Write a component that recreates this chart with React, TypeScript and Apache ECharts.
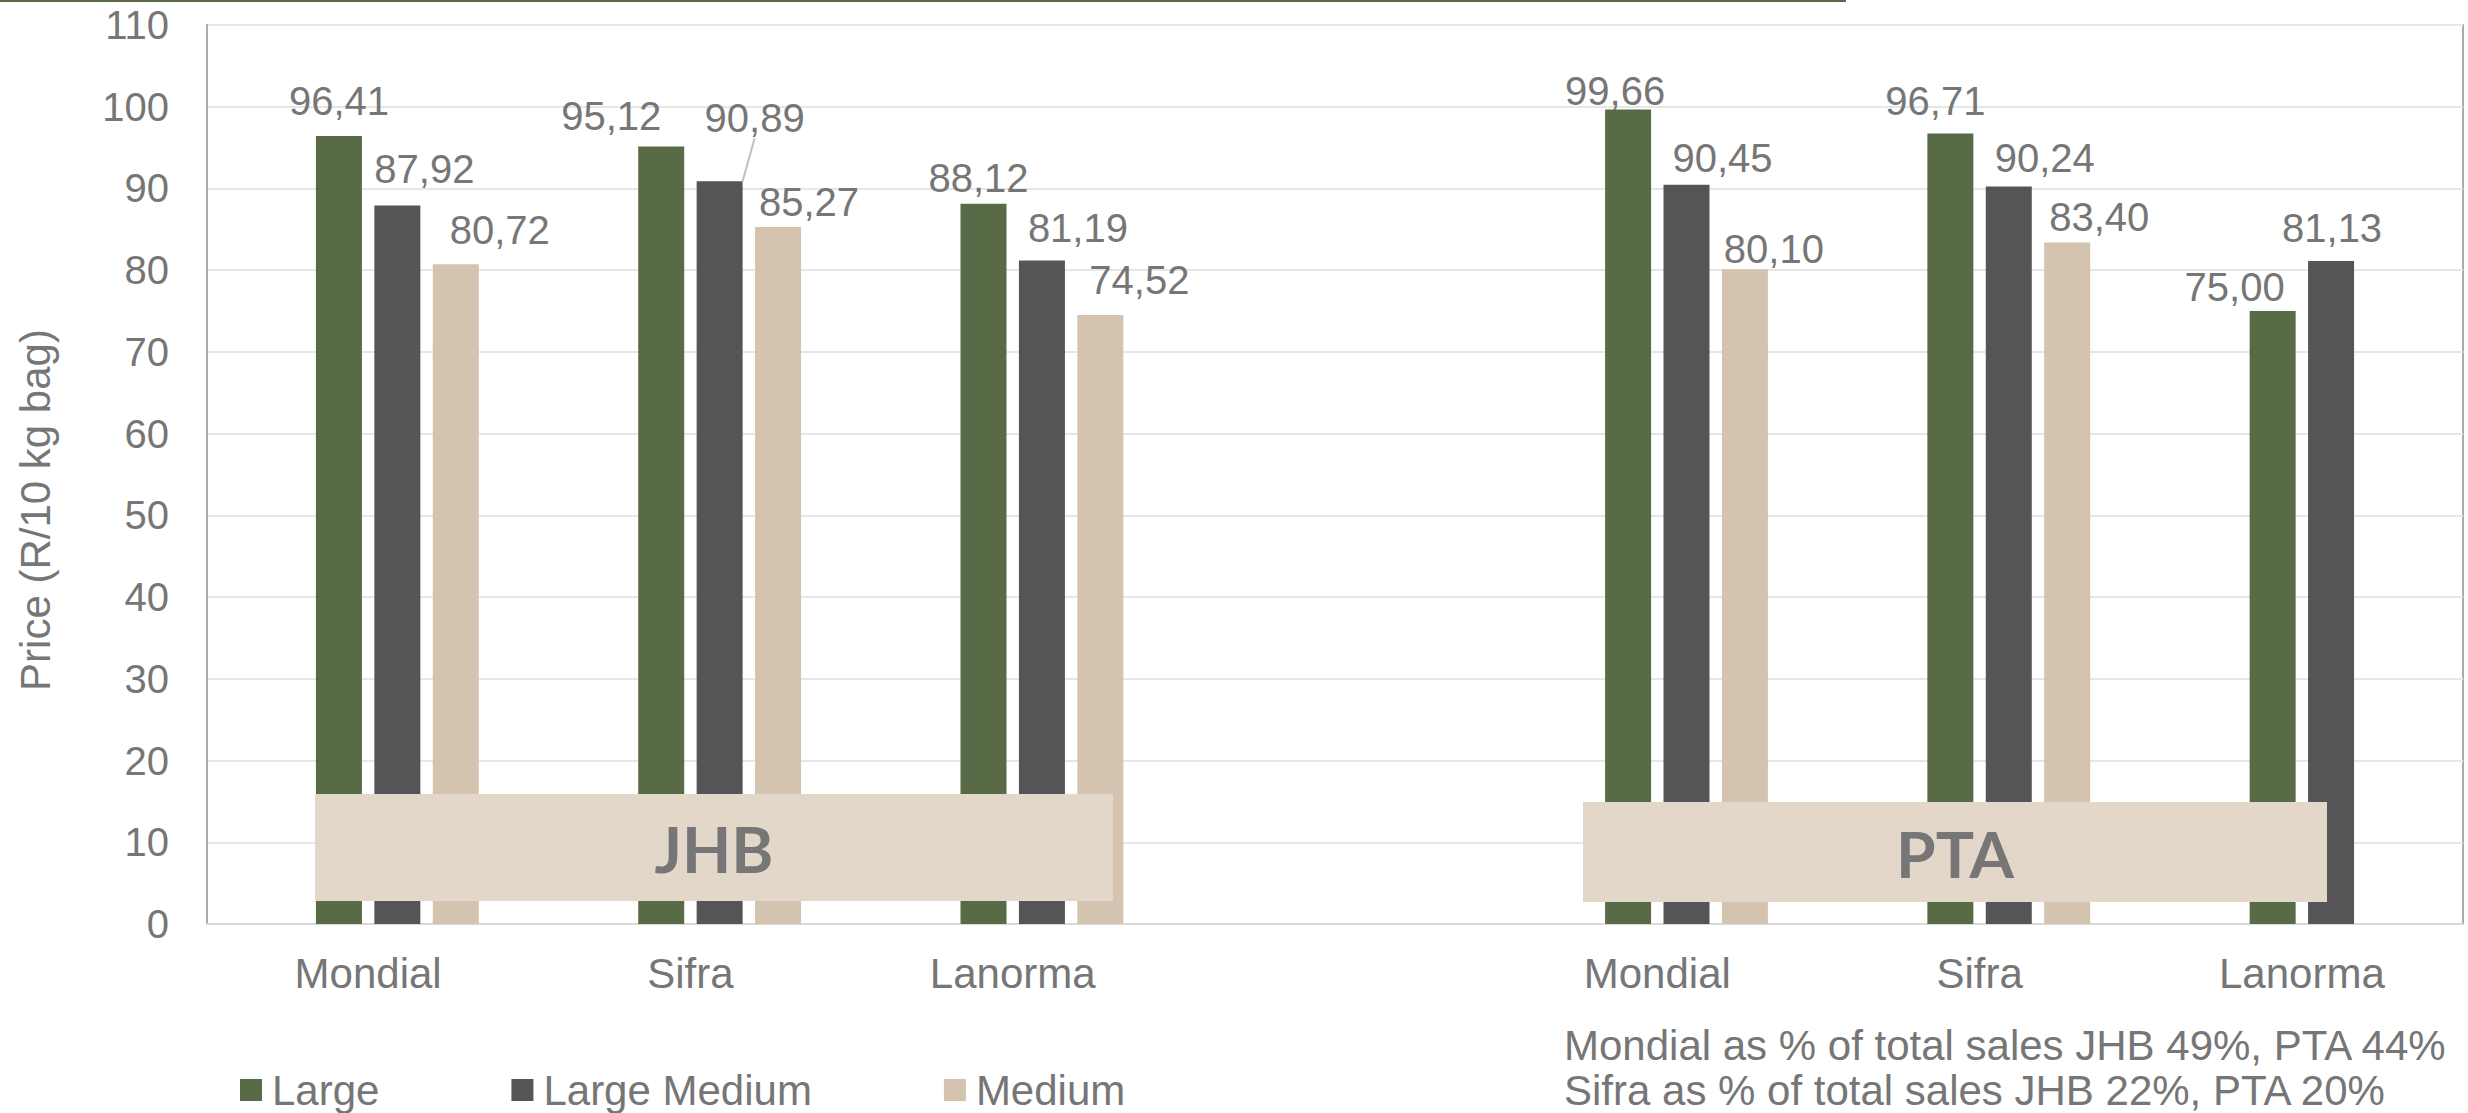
import React, { useEffect, useRef } from 'react';
import * as echarts from 'echarts';

const categories = ['Mondial', 'Sifra', 'Lanorma', '', 'Mondial', 'Sifra', 'Lanorma'];
const seriesNames = ['Large', 'Large Medium', 'Medium'];
const large = [96.41, 95.12, 88.12, null, 99.66, 96.71, 75.0];
const largeMedium = [87.92, 90.89, 81.19, null, 90.45, 90.24, 81.13];
const medium = [80.72, 85.27, 74.52, null, 80.1, 83.4, null];
const regions = ['JHB', 'PTA'];
const notes = [
  'Mondial as % of total sales JHB 49%, PTA 44%',
  'Sifra as % of total sales JHB 22%, PTA 20%',
];
const yAxisTitle = 'Price (R/10 kg bag)';
const yMin = 0;
const yMax = 110;
const yStep = 10;

// label nudges in px [dx, dy], per series, per category
const labelShift = [
  [[0, -10], [-50, -6], [-5, -1], [0, 0], [-13, 6], [-15, -8], [-38, 1]],
  [[27, -11], [35, -38], [36, -7], [0, 0], [36, -2], [36, -3], [1, -8]],
  [[44, -9], [31, 0], [39, -10], [0, 0], [29, 5], [32, 0], [0, 0]],
];
// which labels get a leader line [seriesIdx, dataIdx]
const leaderLines = [[1, 1]];

const colors = ['#596a47', '#555557', '#d4c3ae'];
const textGray = '#767676';
const FONT = '"Liberation Sans", Arial, sans-serif';

const fmt = (v: number) => v.toFixed(2).replace('.', ',');

export default function App() {
  const ref = useRef<HTMLDivElement>(null);
  useEffect(() => {
    if (!ref.current) return;
    const chart = echarts.init(ref.current, undefined, { renderer: 'svg' });
    const values = [large, largeMedium, medium];
    const barSeries = values.map((arr, s) => ({
      type: 'bar',
      name: seriesNames[s],
      barWidth: 46,
      barGap: '27%',
      itemStyle: { color: colors[s] },
      label: {
        show: true,
        position: 'top',
        distance: 5,
        fontSize: 40,
        color: textGray,
        fontFamily: FONT,
        formatter: (p: any) => fmt(Number(p.value)),
      },
      labelLine: { show: false, lineStyle: { color: '#bfbfbf', width: 2 } },
      labelLayout: (params: any) => {
        const sh = labelShift[s][params.dataIndex];
        return sh ? { dx: sh[0], dy: sh[1] } : {};
      },
      data: arr.map((v, i) => ({
        value: v == null ? '-' : v,
        labelLine: {
          show: leaderLines.some(([a, b]) => a === s && b === i),
          lineStyle: { color: '#bfbfbf', width: 2 },
        },
      })),
      z: 2,
    }));

    const option: any = {
      animation: false,
      textStyle: { fontFamily: FONT },
      grid: {
        left: 207,
        right: 5,
        top: 25,
        bottom: 189,
        show: true,
        borderColor: '#ababab',
        borderWidth: 2,
        backgroundColor: 'transparent',
      },
      legend: {
        data: seriesNames,
        left: 235,
        top: 1064,
        itemWidth: 22,
        itemHeight: 22,
        itemGap: 132,
        icon: 'rect',
        textStyle: {
          fontSize: 42,
          color: textGray,
          fontFamily: FONT,
          lineHeight: 42,
          padding: [0, 0, 0, 5],
        },
      },
      xAxis: {
        type: 'category',
        data: categories,
        axisTick: { show: false },
        axisLine: { show: true, lineStyle: { color: '#d9d9d9', width: 2 } },
        axisLabel: {
          interval: 0,
          margin: 28,
          fontSize: 42,
          color: textGray,
          fontFamily: FONT,
        },
      },
      yAxis: {
        type: 'value',
        min: yMin,
        max: yMax,
        interval: yStep,
        axisLine: { show: true, lineStyle: { color: '#ababab', width: 2 } },
        axisTick: { show: false },
        splitLine: { lineStyle: { color: '#e6e6e6', width: 2 } },
        axisLabel: {
          margin: 38,
          fontSize: 40,
          color: textGray,
          fontFamily: FONT,
        },
      },
      series: [
        {
          type: 'bar',
          name: '_pad',
          barWidth: 46,
          barGap: '27%',
          silent: true,
          data: categories.map(() => '-'),
        },
        ...barSeries,
      ],
      graphic: [
        {
          type: 'line',
          shape: { x1: 0, y1: 1, x2: 1846, y2: 1 },
          style: { stroke: '#5a6b48', lineWidth: 2 },
          z: 10,
        },
        {
          type: 'rect',
          shape: { x: 315, y: 794, width: 798, height: 107 },
          style: { fill: '#e3d7ca' },
          z: 10,
        },
        {
          type: 'text',
          x: 714,
          y: 848,
          style: {
            text: regions[0],
            fontSize: 64,
            fontWeight: 'bold',
            fontFamily: 'Lato, "Open Sans", sans-serif',
            fill: textGray,
            align: 'center',
            verticalAlign: 'middle',
          },
          z: 11,
        },
        {
          type: 'rect',
          shape: { x: 1583, y: 802, width: 744, height: 100 },
          style: { fill: '#e3d7ca' },
          z: 10,
        },
        {
          type: 'text',
          x: 1955,
          y: 853,
          style: {
            text: regions[1],
            fontSize: 64,
            fontWeight: 'bold',
            fontFamily: 'Lato, "Open Sans", sans-serif',
            fill: textGray,
            align: 'center',
            verticalAlign: 'middle',
          },
          z: 11,
        },
        {
          type: 'text',
          x: 35,
          y: 510,
          rotation: Math.PI / 2,
          style: {
            text: yAxisTitle,
            fontSize: 42,
            fontFamily: FONT,
            fill: textGray,
            align: 'center',
            verticalAlign: 'middle',
          },
          z: 10,
        },
        ...notes.map((t, i) => ({
          type: 'text',
          x: 1564,
          y: 1045 + i * 45,
          style: {
            text: t,
            fontSize: 42,
            fontFamily: FONT,
            fill: textGray,
            align: 'left',
            verticalAlign: 'middle',
          },
          z: 10,
        })),
      ],
    };
    chart.setOption(option);
    return () => chart.dispose();
  }, []);
  return (
    <div
      ref={ref}
      style={{ position: 'absolute', left: 0, top: 0, width: 2468, height: 1113, background: '#fff' }}
    />
  );
}
